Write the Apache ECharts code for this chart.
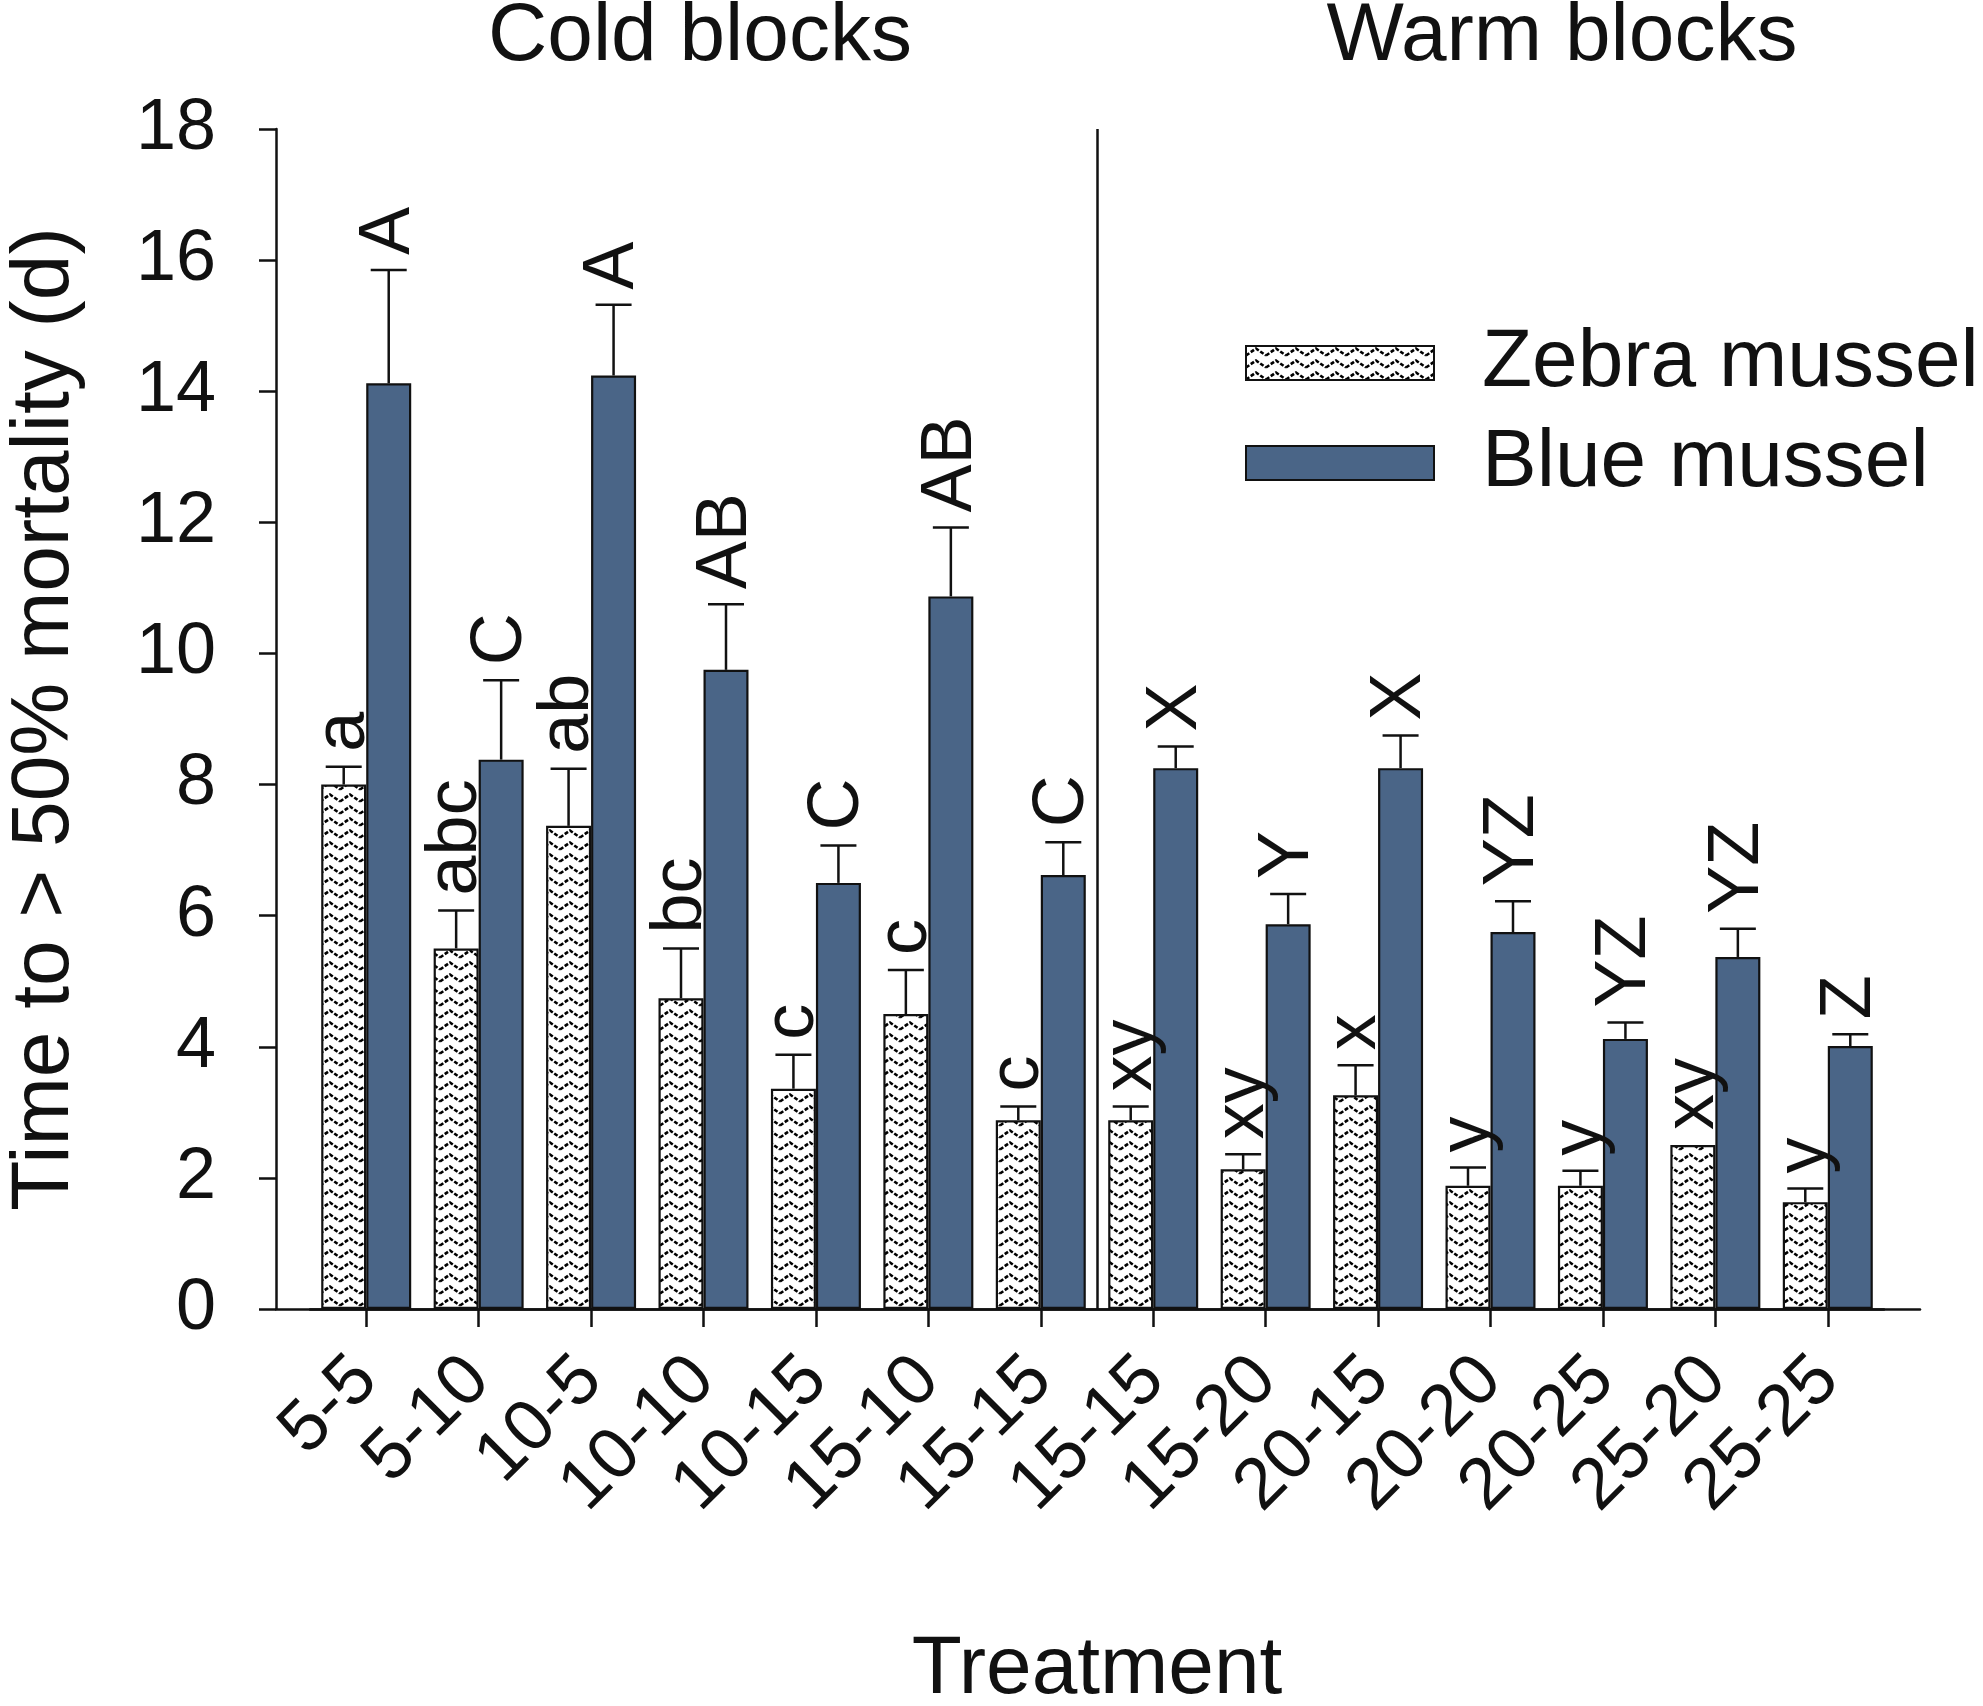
<!DOCTYPE html>
<html>
	<head>
		<meta charset="UTF-8" />
		<title>Time to 50% mortality</title>
		<style>
			html, body { margin: 0; padding: 0; background: #fff; }
			#chart { width: 1983px; height: 1706px; }
		</style>
	</head>
	<body>
		<div id="chart"></div>
		<script type="text/javascript" src="https://cdn.jsdelivr.net/npm/echarts@6/dist/echarts.min.js"></script>
		<script type="text/javascript">
			// treatments (acclimation-exposure temperature)
			const treatments = ["5-5", "5-10", "10-5", "10-10", "10-15", "15-10", "15-15",
				"15-15", "15-20", "20-15", "20-20", "20-25", "25-20", "25-25"];
			const zebraMean = [8.0, 5.5, 7.37, 4.74, 3.36, 4.5, 2.88, 2.88, 2.13, 3.26, 1.88, 1.88, 2.5, 1.63];
			const zebraErr = [0.27, 0.58, 0.87, 0.76, 0.52, 0.67, 0.21, 0.21, 0.23, 0.46, 0.28, 0.23, 0, 0.21];
			const zebraLetters = ["a", "abc", "ab", "bc", "c", "c", "c", "xy", "xy", "x", "y", "y", "xy", "y"];
			const blueMean = [14.12, 8.38, 14.24, 9.75, 6.5, 10.87, 6.62, 8.25, 5.87, 8.25, 5.75, 4.12, 5.37, 4.01];
			const blueErr = [1.73, 1.21, 1.08, 1.0, 0.57, 1.05, 0.5, 0.33, 0.46, 0.5, 0.47, 0.25, 0.43, 0.18];
			const blueLetters = ["A", "C", "A", "AB", "C", "AB", "C", "X", "Y", "X", "YZ", "YZ", "YZ", "Z"];
			const yTicks = { min: 0, max: 18, interval: 2 };

			const FONT = "Liberation Sans";
			const INK = "#111";
			const BAR_W = 45;

			//锯齿花纹
			function zigzagTile() {
				const c = document.createElement("canvas");
				c.width = 20;
				c.height = 12;
				const g = c.getContext("2d");
				g.fillStyle = "#fff";
				g.fillRect(0, 0, 20, 12);
				g.strokeStyle = "#000";
				g.lineWidth = 2.6;
				g.setLineDash([4, 1.8]);
				g.beginPath();
				g.moveTo(0, 9.5);
				g.lineTo(10, 2.5);
				g.lineTo(20, 9.5);
				g.stroke();
				return c;
			}
			const zebraFill = { image: zigzagTile(), repeat: "repeat" };

			function errSeries(name, mean, err, letters, shift) {
				return {
					name: name,
					type: "custom",
					xAxisIndex: 1,
					yAxisIndex: 1,
					z: 5,
					silent: true,
					data: mean.map(function(v, i) { return [i, v, err[i]]; }),
					encode: { x: 0, y: 1 },
					renderItem: function(params, api) {
						const i = api.value(0);
						const base = api.coord([i, api.value(1)]);
						const top = api.coord([i, api.value(1) + api.value(2)]);
						const x = base[0] + shift;
						const kids = [];
						if(api.value(2) > 0) {
							kids.push({
								type: "line",
								shape: { x1: x, y1: base[1], x2: x, y2: top[1] },
								style: { stroke: INK, lineWidth: 2.5 }
							}, {
								type: "line",
								shape: { x1: x - 18, y1: top[1], x2: x + 18, y2: top[1] },
								style: { stroke: INK, lineWidth: 2.5 }
							});
						}
						kids.push({
							type: "text",
							x: x,
							y: top[1] - 15,
							rotation: Math.PI / 2,
							style: {
								text: letters[params.dataIndex],
								fontSize: 72,
								fontFamily: FONT,
								fill: INK,
								align: "left",
								verticalAlign: "middle"
							}
						});
						return { type: "group", children: kids };
					}
				};
			}

			const chart = echarts.init(document.getElementById("chart"));
			const option = {
				animation: false,
				backgroundColor: "#fff",
				textStyle: { fontFamily: FONT, color: INK },
				grid: [
					{ left: 276, right: 63, top: 129, bottom: 397, outerBoundsMode: "none", containLabel: false },
					{ left: 310, right: 99, top: 129, bottom: 397, outerBoundsMode: "none", containLabel: false }
				],
				graphic: [
					{ type: "text", x: 700, y: 37, style: { text: "Cold blocks", fontSize: 82, fontFamily: FONT, fill: INK, align: "center", verticalAlign: "middle" } },
					{ type: "text", x: 1562, y: 37, style: { text: "Warm blocks", fontSize: 82, fontFamily: FONT, fill: INK, align: "center", verticalAlign: "middle" } }
				],
				legend: {
					orient: "vertical",
					left: 1240,
					top: 317,
					itemWidth: 188,
					itemHeight: 34,
					itemGap: 18,
					icon: "rect",
					data: ["Zebra mussel", "Blue mussel"],
					textStyle: { fontSize: 82, fontFamily: FONT, color: INK, padding: [0, 0, 0, 43] }
				},
				xAxis: [{
					gridIndex: 0,
					type: "value",
					min: 0,
					max: 1,
					axisLine: { show: true, lineStyle: { color: INK, width: 2.5 } },
					axisTick: { show: false },
					axisLabel: { show: false },
					splitLine: { show: false }
				}, {
					gridIndex: 1,
					type: "category",
					data: treatments,
					axisLine: { show: true, lineStyle: { color: INK, width: 2.5 } },
					axisTick: { show: true, alignWithLabel: true, length: 18, lineStyle: { color: INK, width: 2.5 } },
					axisLabel: { rotate: 45, fontSize: 72, margin: 60, color: INK, fontFamily: FONT, interval: 0 },
					name: "Treatment",
					nameLocation: "middle",
					nameGap: 320,
					nameTextStyle: { fontSize: 82, color: INK, fontFamily: FONT }
				}, {
					// 冷/暖区块分隔线
					gridIndex: 1,
					type: "value",
					min: -0.5,
					max: 13.5,
					interval: 7,
					axisLine: { show: false },
					axisTick: { show: false },
					axisLabel: { show: false },
					splitLine: { show: true, showMinLine: false, showMaxLine: false, lineStyle: { color: INK, width: 2.5 } }
				}],
				yAxis: [{
					gridIndex: 0,
					type: "value",
					min: yTicks.min,
					max: yTicks.max,
					interval: yTicks.interval,
					axisLine: { show: true, lineStyle: { color: INK, width: 2.5 } },
					axisTick: { show: true, length: 17, lineStyle: { color: INK, width: 2.5 } },
					axisLabel: { fontSize: 72, margin: 60, color: INK, fontFamily: FONT },
					splitLine: { show: false },
					name: "Time to > 50% mortality (d)",
					nameLocation: "middle",
					nameGap: 190,
					nameTextStyle: { fontSize: 82, color: INK, fontFamily: FONT }
				}, {
					gridIndex: 1,
					type: "value",
					min: yTicks.min,
					max: yTicks.max,
					show: false
				}],
				series: [{
					name: "Zebra mussel",
					type: "bar",
					xAxisIndex: 1,
					yAxisIndex: 1,
					data: zebraMean,
					barWidth: BAR_W,
					barGap: "0%",
					itemStyle: { color: zebraFill, borderColor: INK, borderWidth: 2.2 }
				}, {
					name: "Blue mussel",
					type: "bar",
					xAxisIndex: 1,
					yAxisIndex: 1,
					data: blueMean,
					barWidth: BAR_W,
					barGap: "0%",
					itemStyle: { color: "#4a6587", borderColor: INK, borderWidth: 2.2 }
				},
				errSeries("zebraErr", zebraMean, zebraErr, zebraLetters, -BAR_W / 2),
				errSeries("blueErr", blueMean, blueErr, blueLetters, BAR_W / 2)]
			};
			chart.setOption(option);
		</script>
	</body>
</html>
